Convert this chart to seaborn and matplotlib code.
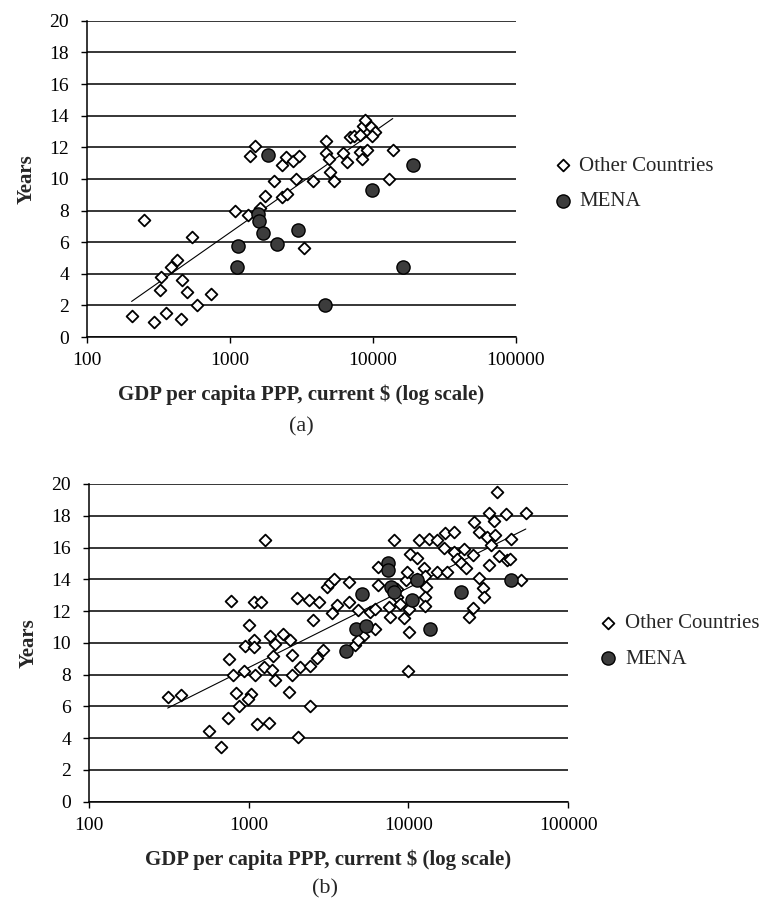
import numpy as np
import pandas as pd
import matplotlib
matplotlib.use("Agg")
import matplotlib.pyplot as plt
import matplotlib.ticker as ticker
import seaborn as sns

# ---- panel (a): values ----
a_other_gdp = [205, 249, 296, 323, 328, 356, 388, 428, 454, 459, 503, 540, 585, 732,
               1084, 1330, 1496, 1381, 1622, 1758, 2046, 2327, 2470, 2750, 3061, 2302,
               2523, 2871, 3266, 3797, 4656, 4684, 4919, 5025, 5357, 6166, 6575, 6861,
               7311, 8144, 8370, 8507, 8836, 9679, 10380, 9840, 9078, 8144, 13740, 12880]
a_other_years = [1.35, 7.4, 0.95, 3.0, 3.8, 1.5, 4.4, 4.85, 1.15, 3.6, 2.85, 6.35, 2.0, 2.7,
                 8.0, 7.7, 12.1, 11.45, 8.15, 8.95, 9.85, 10.9, 11.4, 11.15, 11.45, 8.85,
                 9.05, 10.0, 5.6, 9.85, 12.4, 11.65, 11.25, 10.45, 9.85, 11.65, 11.05, 12.65,
                 12.7, 11.7, 11.25, 13.35, 13.7, 13.3, 12.95, 12.7, 11.85, 12.8, 11.85, 10.0]
a_mena_gdp = [1857, 1560, 1590, 1714, 1144, 1113, 2123, 3011, 4634, 9840, 18970, 16150]
a_mena_years = [11.5, 7.8, 7.35, 6.6, 5.75, 4.4, 5.9, 6.8, 2.05, 9.3, 10.9, 4.4]

# ---- panel (b) ----
b_other_gdp = [311, 377, 568, 672, 737, 777, 758, 803, 836, 864, 937, 951, 1007, 1081,
               1081, 1037, 985, 1088, 1072, 1197, 1125, 1349, 1256, 1410, 1364, 1466,
               1638, 1396, 1466, 1795, 1262,
               1820, 1866, 1866, 2094, 2051, 2432, 1995, 2394, 2739, 2513, 2404, 2678, 2920,
               3080, 3230, 3440, 3310, 3550, 4220, 4220, 4600, 4830, 5200, 4830, 5770,
               6190, 6190, 6410, 6410, 7600, 7710, 8166, 8490, 8490, 8910, 9350, 9720,
               9820, 10050, 10050, 9900, 10300, 11350, 11350, 11610, 12480, 12790, 12980,
               12790, 12790, 13420, 15140, 15140, 16840, 16920, 17490, 19290, 19290,
               20200, 21220, 22280, 22810, 23960, 25550, 25530, 25760, 27700, 27700,
               29470, 29770, 30950, 31980, 31980, 32830, 34380, 34750, 35730, 37010,
               40660, 41760, 43370, 43870, 50600, 54400]
b_other_years = [6.6, 6.7, 4.45, 3.45, 5.25, 12.65, 9.0, 8.0, 6.85, 6.05, 8.25, 9.8, 11.15, 10.2,
                 9.75, 6.8, 6.45, 8.0, 12.6, 12.6, 4.9, 4.95, 8.5, 9.15, 10.45, 9.95,
                 10.55, 8.3, 7.65, 6.9, 16.5,
                 10.2, 9.25, 8.0, 8.45, 4.1, 6.05, 12.85, 12.7, 12.6, 11.45, 8.55, 9.05, 9.55,
                 13.5, 13.75, 14.0, 11.85, 12.4, 13.8, 12.55, 9.85, 12.05, 10.45, 10.15, 11.95,
                 12.15, 10.9, 14.8, 13.65, 12.25, 11.6, 16.45, 13.4, 12.9, 12.45, 11.55, 13.95,
                 14.45, 12.15, 10.7, 8.2, 15.6, 15.35, 14.05, 16.45, 14.7, 14.2, 13.5,
                 12.9, 12.35, 16.55, 16.45, 14.45, 15.95, 16.9, 14.45, 17.0, 15.75,
                 15.3, 15.0, 15.9, 14.7, 11.6, 12.2, 15.55, 17.6, 17.0, 14.1,
                 13.45, 12.9, 16.65, 18.15, 14.9, 16.15, 17.7, 16.8, 19.5, 15.45,
                 18.1, 15.2, 15.25, 16.55, 13.95, 18.15]
b_mena_gdp = [4070, 4690, 5450, 5120, 7450, 7450, 7780, 8160, 10540, 11350, 13610, 21220, 43800]
b_mena_years = [9.5, 10.9, 11.05, 13.1, 15.0, 14.6, 13.5, 13.2, 12.7, 13.95, 10.9, 13.2, 13.95]

x_ticks = [100, 1000, 10000, 100000]
x_tick_labels = ['100', '1000', '10000', '100000']
y_ticks = list(range(0, 21, 2))

sns.set_theme(style="white")
plt.rcParams['font.family'] = ['Liberation Serif', 'DejaVu Serif']


def draw_panel(ax, other_x, other_y, mena_x, mena_y, anchor):
    others = pd.DataFrame({'gdp': other_x, 'years': other_y})
    mena = pd.DataFrame({'gdp': mena_x, 'years': mena_y})

    # log trend line through the other countries
    sns.regplot(data=others, x='gdp', y='years', logx=True, scatter=False, ci=None,
                color='black', line_kws={'lw': 0.8}, ax=ax)
    sns.scatterplot(data=others, x='gdp', y='years', marker='D', s=36, color='white',
                    edgecolor='black', linewidth=1.3, label='Other Countries', ax=ax, zorder=3)
    sns.scatterplot(data=mena, x='gdp', y='years', marker='o', s=90, color='#3c3c3c',
                    edgecolor='black', linewidth=1.0, label='MENA', ax=ax, zorder=4)

    ax.set_xscale('log')
    ax.set_xlim(100, 100000)
    ax.set_ylim(0, 20)
    ax.set_xticks(x_ticks)
    ax.set_xticklabels(x_tick_labels)
    ax.xaxis.set_minor_locator(ticker.NullLocator())
    ax.set_yticks(y_ticks)

    ax.yaxis.grid(True, color='black', lw=1.1)
    ax.xaxis.grid(False)
    ax.set_axisbelow(True)
    for side in ['top', 'right']:
        ax.spines[side].set_visible(False)
    for side in ['left', 'bottom']:
        ax.spines[side].set_color('black')
        ax.spines[side].set_linewidth(1.1)

    ax.tick_params(axis='both', which='major', bottom=True, left=True, direction='out',
                   length=4, width=1, colors='black', labelsize=14)
    ax.tick_params(axis='x', pad=7)
    ax.tick_params(axis='y', pad=9)

    ax.set_xlabel('GDP per capita PPP, current $ (log scale)', fontsize=15,
                  fontweight='bold', labelpad=11)
    ax.set_ylabel('Years', fontsize=15, fontweight='bold', labelpad=9)

    ax.legend(loc='center left', bbox_to_anchor=anchor, frameon=False, fontsize=15,
              handletextpad=0.2, labelspacing=0.75, borderaxespad=0, handlelength=1.2,
              borderpad=0)


fig = plt.figure(figsize=(7.64, 9.06), dpi=100)
ax_a = fig.add_axes([0.1139, 0.628, 0.5615, 0.349])
ax_b = fig.add_axes([0.1165, 0.1151, 0.627, 0.3507])

draw_panel(ax_a, a_other_gdp, a_other_years, a_mena_gdp, a_mena_years, (1.08, 0.485))
draw_panel(ax_b, b_other_gdp, b_other_years, b_mena_gdp, b_mena_years, (1.058, 0.505))

fig.text(301 / 764, 1 - 427 / 906, '(a)', ha='center', va='center', fontsize=16)
fig.text(325 / 764, 1 - 889 / 906, '(b)', ha='center', va='center', fontsize=16)

fig.savefig('out.png', dpi=100, facecolor='white')
